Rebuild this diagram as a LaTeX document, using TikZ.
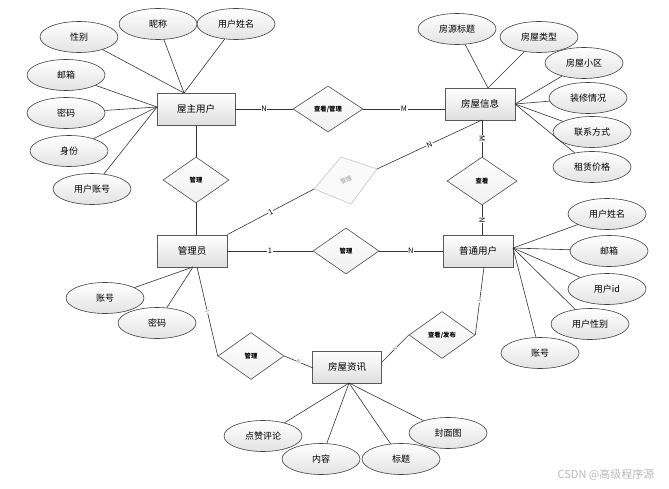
\documentclass[tikz,border=0pt]{standalone}
\usepackage{fontspec}
\setmainfont{Noto Sans CJK SC}
\usetikzlibrary{shapes.geometric,shadings}
\begin{document}
\begin{tikzpicture}[x=1pt,y=-1pt,
  attr/.style={ellipse,draw=black!75,line width=0.6pt,top color=white,bottom color=gray!22,
    minimum width=78pt,minimum height=31pt,inner sep=0pt,font=\fontsize{9}{10}\selectfont},
  entity/.style={rectangle,draw=black!65,line width=0.9pt,top color=white,bottom color=gray!25,
    minimum width=70pt,minimum height=32pt,inner sep=0pt,font=\fontsize{9.5}{10}\selectfont},
  rel/.style={diamond,draw=black!70,line width=0.6pt,top color=white,bottom color=gray!12,
    minimum width=66pt,minimum height=46pt,inner sep=0pt,font=\bfseries\fontsize{6.3}{7}\selectfont},
  conn/.style={draw=black!80,line width=0.6pt},
  card/.style={fill=white,inner sep=0.6pt,font=\fontsize{7.5}{8}\selectfont},
  tcard/.style={fill=white,inner sep=0.3pt,text=gray,font=\fontsize{5}{5}\selectfont,sloped}
]
\useasboundingbox (0,0) rectangle (669,489);
\fill[white] (0,0) rectangle (669,489);

% entities
\node[entity,minimum width=78pt] (wz) at (196,109) {屋主用户};
\node[entity] (fw) at (480,104) {房屋信息};
\node[entity] (gly) at (192,251) {管理员};
\node[entity] (pt) at (478,251) {普通用户};
\node[entity,minimum width=69pt] (zx) at (347,367) {房屋资讯};

% relationships
\node[rel,minimum width=70pt] (r1) at (328,109) {查看/管理};
\node[rel] (r2) at (196,180) {管理};
\node[rel,minimum width=70pt,minimum height=48pt] (r3) at (482,181) {查看};
\node[rel] (r4) at (346,251) {管理};
\node[rel,minimum height=47pt] (r5) at (442,335) {查看/发布};
\node[rel,minimum height=47pt] (r6) at (251,356) {管理};

% gray rotated diamond
\coordinate (gt) at (341,157);
\coordinate (gr) at (377,169);
\coordinate (gb) at (351,204);
\coordinate (gl) at (314,189);
\filldraw[draw=gray!45,fill=gray!4,line width=0.6pt] (gt) -- (gr) -- (gb) -- (gl) -- cycle;
\node[rotate=28,text=gray!80,font=\fontsize{6}{6}\selectfont] (gtx) at (346,180) {管理};

% attributes of 屋主用户
\node[attr] (a1) at (79,37) {性别};
\node[attr] (a2) at (158,24) {昵称};
\node[attr] (a3) at (236,24) {用户姓名};
\node[attr] (a4) at (66,75) {邮箱};
\node[attr] (a5) at (66,113) {密码};
\node[attr] (a6) at (69,151) {身份};
\node[attr] (a7) at (92,189) {用户账号};
\coordinate (wzt) at (184,93);
\coordinate (wzl) at (157,107);
\foreach \a in {a1,a2,a3} \draw[conn] (\a) -- (wzt);
\foreach \a in {a4,a5,a6,a7} \draw[conn] (\a) -- (wzl);

% attributes of 房屋信息
\node[attr] (b1) at (457,29) {房源标题};
\node[attr] (b2) at (539,37) {房屋类型};
\node[attr] (b3) at (584,63) {房屋小区};
\node[attr] (b4) at (588,98) {装修情况};
\node[attr] (b5) at (592,132) {联系方式};
\node[attr] (b6) at (592,167) {租赁价格};
\coordinate (fwt) at (488,88);
\coordinate (fwr) at (515,104);
\foreach \a in {b1,b2} \draw[conn] (\a) -- (fwt);
\foreach \a in {b3,b4,b5,b6} \draw[conn] (\a) -- (fwr);

% attributes of 管理员
\node[attr] (c1) at (105,298) {账号};
\node[attr] (c2) at (157,323) {密码};
\coordinate (glyb) at (193,267);
\foreach \a in {c1,c2} \draw[conn] (\a) -- (glyb);

% attributes of 普通用户
\node[attr] (d1) at (607,214) {用户姓名};
\node[attr] (d2) at (609,251) {邮箱};
\node[attr] (d3) at (607,289) {用户id};
\node[attr] (d4) at (590,324) {用户性别};
\node[attr] (d5) at (540,353) {账号};
\coordinate (ptr) at (513,248);
\foreach \a in {d1,d2,d3,d4,d5} \draw[conn] (\a) -- (ptr);

% attributes of 房屋资讯
\node[attr] (e1) at (263,436) {点赞评论};
\node[attr] (e2) at (321,459) {内容};
\node[attr] (e3) at (401,459) {标题};
\node[attr] (e4) at (448,433) {封面图};
\coordinate (zxb) at (349,383);
\foreach \a in {e1,e2,e3,e4} \draw[conn] (\a) -- (zxb);

% relationship connectors
\draw[conn] (wz.east) -- node[card] {N} (r1.west);
\draw[conn] (r1.east) -- node[card] {M} (r1.east -| fw.west);
\draw[conn] (wz.south) -- (r2.north);
\draw[conn] (r2.south) -- (r2.south |- gly.north);
\draw[conn] (gly.north east) -- node[card,sloped] {1} (gl);
\draw[conn] (gr) -- node[card,sloped] {N} (482,120);
\draw[conn] (r3.north |- fw.south) -- node[card,sloped] {M} (r3.north);
\draw[conn] (r3.south) -- node[card,sloped] {N} (r3.south |- pt.north);
\draw[conn] (gly.east) -- node[card] {1} (r4.west);
\draw[conn] (r4.east) -- node[card] {N} (pt.west);
\coordinate (glyb2) at (197,267);
\draw[conn] (glyb2) -- node[tcard] {1} (r6.west);
\coordinate (zxl) at (313,368);
\draw[conn] (r6.east) -- node[tcard] {N} (zxl);
\coordinate (zxr) at (382,362);
\draw[conn] (zxr) -- node[tcard] {N} (r5.west);
\coordinate (ptb) at (484,267);
\draw[conn] (r5.east) -- node[tcard] {1} (ptb);

% watermark
\node[text=gray!55,font=\fontsize{11}{12}\selectfont] (wm) at (606,475) {CSDN @高级程序源};
\end{tikzpicture}
\end{document}
